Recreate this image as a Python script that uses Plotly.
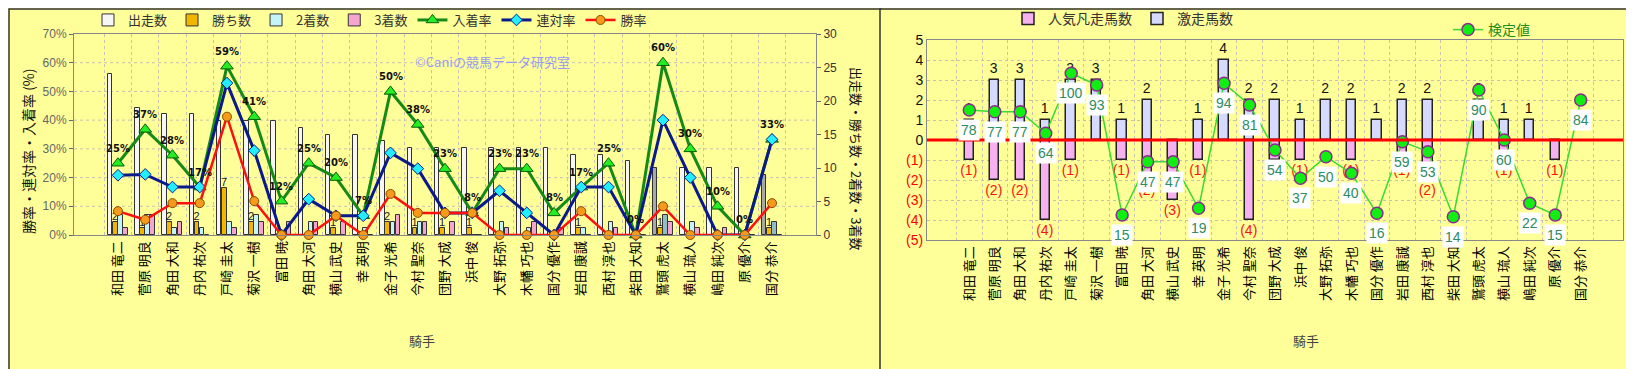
import plotly.graph_objects as go

# ---------------- data ----------------
jockeys = ["和田 竜二", "菅原 明良", "角田 大和", "丹内 祐次", "戸崎 圭太", "菊沢 一樹", "富田 暁",
           "角田 大河", "横山 武史", "幸 英明", "金子 光希", "今村 聖奈", "団野 大成", "浜中 俊",
           "大野 拓弥", "木幡 巧也", "国分 優作", "岩田 康誠", "西村 淳也", "柴田 大知", "鷲頭 虎太",
           "横山 琉人", "嶋田 純次", "原 優介", "国分 恭介"]

starts = [24, 19, 18, 18, 17, 17, 17, 16, 15, 15, 14, 13, 13, 13, 13, 13, 13, 12, 12, 11, 10, 10, 10, 10, 9]
wins = [2, 1, 2, 2, 7, 2, 0, 0, 1, 0, 2, 1, 1, 1, 0, 0, 0, 1, 0, 0, 1, 0, 0, 0, 1]
seconds = [3, 3, 1, 1, 2, 3, 0, 2, 0, 1, 2, 2, 0, 0, 2, 1, 0, 1, 2, 0, 3, 2, 0, 0, 2]
thirds = [1, 3, 2, 0, 1, 2, 2, 2, 2, 0, 3, 2, 2, 0, 1, 2, 1, 0, 1, 0, 2, 1, 1, 0, 0]

win_rate = [8.3, 5.3, 11.1, 11.1, 41.2, 11.8, 0, 0, 6.7, 0, 14.3, 7.7, 7.7, 7.7, 0, 0, 0, 8.3, 0, 0, 10.0, 0, 0, 0, 11.1]
rentai_rate = [20.8, 21.1, 16.7, 16.7, 52.9, 29.4, 0, 12.5, 6.7, 6.7, 28.6, 23.1, 7.7, 7.7, 15.4, 7.7, 0, 16.7, 16.7, 0, 40.0, 20.0, 0, 0, 33.3]
place_rate = [25.0, 36.8, 27.8, 16.7, 58.8, 41.2, 11.8, 25.0, 20.0, 6.7, 50.0, 38.5, 23.1, 7.7, 23.1, 23.1, 7.7, 16.7, 25.0, 0, 60.0, 30.0, 10.0, 0, 33.3]

surge_horses = [1, 3, 3, 1, 3, 3, 1, 2, 0, 1, 4, 2, 2, 1, 2, 2, 1, 2, 2, 0, 2, 1, 1, 0, 0]
flop_horses = [1, 2, 2, 4, 1, 0, 1, 2, 3, 1, 0, 4, 1, 1, 0, 1, 0, 1, 2, 0, 0, 1, 0, 1, 0]
test_values = [78, 77, 77, 64, 100, 93, 15, 47, 47, 19, 94, 81, 54, 37, 50, 40, 16, 59, 53, 14, 90, 60, 22, 15, 84]

highlight = {"鷲頭 虎太", "国分 恭介"}

# ---------------- figure ----------------
W, H = 1634, 369
def px(x):
    return x / W
def py(y):
    return 1 - y / H

JP = "Noto Sans CJK JP"
fig = go.Figure()

# left chart bars (count axis = primary y, drawn below the rate lines)
bw = 0.17
bar_specs = [
    ("出走数", starts, ["#A8A8A8" if j in highlight else "#F6F6F6" for j in jockeys], -0.375),
    ("勝ち数", wins, "#F2B600", -0.1875),
    ("2着数", seconds, ["#8FBFC4" if j in highlight else "#C4F4F8" for j in jockeys], 0.0),
    ("3着数", thirds, "#F4A6CF", 0.1875),
]
for name, vals, color, off in bar_specs:
    fig.add_trace(go.Bar(
        x=jockeys, y=vals, name=name, xaxis="x", yaxis="y",
        marker=dict(color=color, line=dict(color="#333333", width=1)),
        width=bw, offset=off, legend="legend",
        text=[str(v) if (name == "勝ち数" and v > 0) else "" for v in vals],
        textposition="outside", constraintext="none",
        textfont=dict(size=11, color="#222", family="Liberation Sans"),
        cliponaxis=False, hoverinfo="skip",
    ))

# left chart lines (rate axis = y2 overlaying)
fig.add_trace(go.Scatter(
    x=jockeys, y=[v / 100 for v in place_rate], name="入着率", xaxis="x", yaxis="y2",
    mode="lines+markers", line=dict(color="#168A16", width=3),
    marker=dict(symbol="triangle-up", size=11, color="#22EE22", line=dict(color="#0A5A0A", width=1)),
    legend="legend", cliponaxis=False,
))
fig.add_trace(go.Scatter(
    x=jockeys, y=[v / 100 for v in rentai_rate], name="連対率", xaxis="x", yaxis="y2",
    mode="lines+markers", line=dict(color="#0A1A8A", width=3),
    marker=dict(symbol="diamond", size=9, color="#22EEFF", line=dict(color="#0A1A8A", width=1)),
    legend="legend", cliponaxis=False,
))
fig.add_trace(go.Scatter(
    x=jockeys, y=[v / 100 for v in win_rate], name="勝率", xaxis="x", yaxis="y2",
    mode="lines+markers", line=dict(color="#FF1010", width=2.5),
    marker=dict(symbol="circle", size=9, color="#F59A1A", line=dict(color="#8A4A00", width=1)),
    legend="legend", cliponaxis=False,
))

# right chart bars
fig.add_trace(go.Bar(
    x=jockeys, y=[-v if v else None for v in flop_horses], name="人気凡走馬数", xaxis="x2", yaxis="y3",
    marker=dict(color="#F6B2F0", line=dict(color="#222", width=1.5)), width=0.37, offset=-0.185,
    text=[f"({v})" if v else "" for v in flop_horses], textposition="outside", constraintext="none",
    textfont=dict(size=14, color="#FF1010", family="Liberation Sans"), cliponaxis=False,
    legend="legend2", hoverinfo="skip",
))
fig.add_trace(go.Bar(
    x=jockeys, y=[v if v else None for v in surge_horses], name="激走馬数", xaxis="x2", yaxis="y3",
    marker=dict(color="#D6DAFF", line=dict(color="#222", width=1.5)), width=0.37, offset=-0.185,
    text=[str(v) if v else "" for v in surge_horses], textposition="outside", constraintext="none",
    textfont=dict(size=14, color="#111", family="Liberation Sans"), cliponaxis=False,
    legend="legend2", hoverinfo="skip",
))
fig.add_trace(go.Scatter(
    x=jockeys, y=test_values, name="検定値", xaxis="x2", yaxis="y4",
    mode="lines+markers", line=dict(color="#33DD33", width=1.5),
    marker=dict(size=12, color="#11EE11", line=dict(color="#8E2C8E", width=1.5)),
    legend="legend3", cliponaxis=False,
))

annotations = []
# percentage labels above the 入着率 markers
for j, v in zip(jockeys, place_rate):
    annotations.append(dict(x=j, y=v / 100, xref="x", yref="y2", text=f"<b>{round(v):.0f}%</b>",
                            showarrow=False, yshift=15,
                            font=dict(size=10, color="#111", family="DejaVu Sans")))
# 検定値 labels in white boxes below the markers
for j, v in zip(jockeys, test_values):
    annotations.append(dict(x=j, y=v, xref="x2", yref="y4", text=str(v), showarrow=False,
                            yshift=-20, bgcolor="white", borderpad=2,
                            font=dict(size=14, color="#2E8B62", family="Liberation Sans")))

annotations += [
    dict(x=px(20), y=py(143), xref="paper", yref="paper", text="勝率・連対率・入着率 (%)",
         xanchor="center", yanchor="middle",
         showarrow=False, textangle=-90, font=dict(size=14, color="#111", family=JP)),
    dict(x=px(849), y=py(150), xref="paper", yref="paper", text="出走数・勝ち数・2着数・3着数",
         xanchor="center", yanchor="middle",
         showarrow=False, textangle=90, font=dict(size=13, color="#111", family=JP)),
    dict(x=px(405), y=py(42), xref="paper", yref="paper", text="©Caniの競馬データ研究室",
         showarrow=False, font=dict(size=13, color="#9A9AF5", family=JP)),
    dict(x=px(399), y=py(344), xref="paper", yref="paper", text="騎手",
         showarrow=False, font=dict(size=13, color="#444", family=JP)),
    dict(x=px(1313), y=py(344), xref="paper", yref="paper", text="騎手",
         showarrow=False, font=dict(size=13, color="#444", family=JP)),
]

shapes = [
    dict(type="rect", xref="paper", yref="paper", x0=px(1), x1=px(873), y0=py(367), y1=py(1),
         line=dict(color="#333", width=1.5), fillcolor="#FFFF99", layer="below"),
    dict(type="rect", xref="paper", yref="paper", x0=px(872), x1=px(1632), y0=py(366), y1=py(1),
         line=dict(color="#333", width=1.5), fillcolor="#FFFF99", layer="below"),
]
# horizontal grid of the left chart at every 10 %
for k in range(1, 7):
    shapes.append(dict(type="line", xref="x domain", yref="y2", x0=0, x1=1, y0=k / 10, y1=k / 10,
                       line=dict(color="#C8C0B0", width=1, dash="dot"), layer="below"))
shapes.append(dict(type="line", xref="x2 domain", yref="y3", x0=0, x1=1, y0=0, y1=0,
                   line=dict(color="#FF0000", width=3), layer="above"))

vgrid = dict(showgrid=True, gridcolor="#C8C0B0", griddash="dot", gridwidth=1)
fig.update_layout(
    width=W, height=H, margin=dict(l=0, r=0, t=0, b=0, autoexpand=False),
    paper_bgcolor="#FFFF99", plot_bgcolor="#F6EDD8",
    barmode="overlay", bargap=0,
    font=dict(family=JP),
    showlegend=True,
    xaxis=dict(domain=[px(66), px(808)], anchor="y", tickangle=-90, tickson="boundaries",
               tickfont=dict(size=13, color="#000", family=JP), ticks="", ticklen=0,
               linecolor="#888", mirror=True, showline=True, automargin=False, **vgrid),
    yaxis=dict(domain=[py(227), py(26)], anchor="x", side="right", range=[0, 30], dtick=5,
               tickfont=dict(size=12, color="#333", family="Liberation Sans"),
               showgrid=False, zeroline=False, ticks="outside", ticklen=4, tickcolor="#666",
               linecolor="#888", showline=True, automargin=False),
    yaxis2=dict(overlaying="y", side="left", anchor="x", range=[0, 0.7], dtick=0.1, tickformat=".0%",
                tickfont=dict(size=12, color="#666", family="Liberation Sans"),
                linecolor="#888", showline=True, zeroline=False, showgrid=False,
                ticks="outside", ticklen=4, tickcolor="#666", automargin=False),
    xaxis2=dict(domain=[px(919), px(1615)], anchor="y3", tickangle=-90, tickson="boundaries",
                tickfont=dict(size=13, color="#000", family=JP), ticks="", ticklen=0,
                linecolor="#888", mirror=True, showline=True, automargin=False, **vgrid),
    yaxis3=dict(domain=[py(232), py(32)], anchor="x2", range=[-5, 5],
                tickvals=list(range(-5, 6)),
                ticktext=[f'<span style="color:#FF0000">({abs(v)})</span>' if v < 0 else str(v)
                          for v in range(-5, 6)],
                tickfont=dict(size=14, color="#111", family="Liberation Sans"),
                linecolor="#888", showline=True, mirror=True, zeroline=False, automargin=False,
                **vgrid),
    yaxis4=dict(overlaying="y3", anchor="x2", side="right", range=[0, 120], visible=False,
                automargin=False),
    legend=dict(orientation="h", x=px(80), y=py(12), xanchor="left", yanchor="middle",
                bgcolor="rgba(0,0,0,0)", font=dict(size=13, color="#333", family=JP),
                itemwidth=30, tracegroupgap=0),
    legend2=dict(orientation="h", x=px(1000), y=py(11), xanchor="left", yanchor="middle",
                 bgcolor="rgba(0,0,0,0)", font=dict(size=14, color="#333", family=JP), itemwidth=30),
    legend3=dict(orientation="h", x=px(1440), y=py(22), xanchor="left", yanchor="middle",
                 bgcolor="rgba(0,0,0,0)", font=dict(size=14, color="#1E8C1E", family=JP), itemwidth=30),
    annotations=annotations,
    shapes=shapes,
)

fig.write_html("out.html")
